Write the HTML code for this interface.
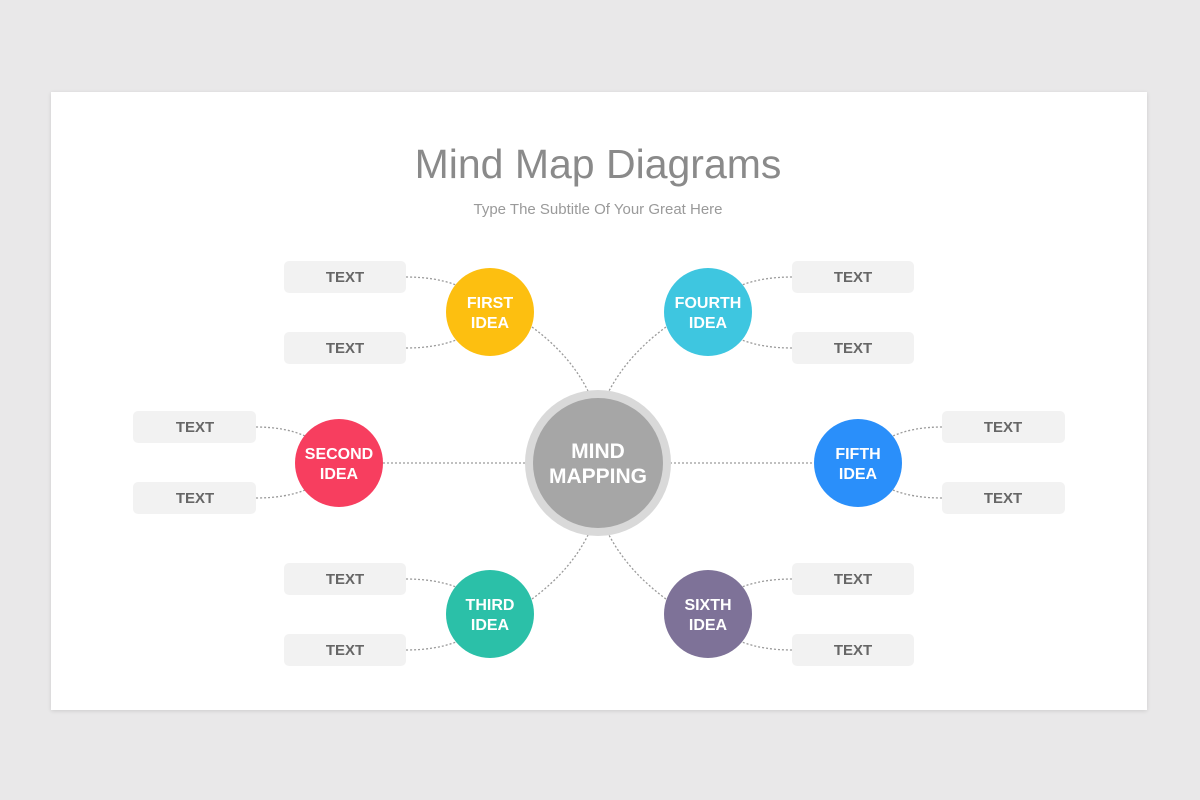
<!DOCTYPE html>
<html><head><meta charset="utf-8"><style>
html,body{margin:0;padding:0;background:#e9e8e9;width:1200px;height:800px;overflow:hidden;font-family:"Liberation Sans",sans-serif}
.card{position:absolute;left:51px;top:92px;width:1096px;height:618px;background:#fff;box-shadow:0 1px 4px rgba(0,0,0,.12)}
svg{position:absolute;left:0;top:0}
</style></head><body>
<div class="card"></div>
<svg width="1200" height="800" viewBox="0 0 1200 800" font-family="Liberation Sans, sans-serif">
<text x="598" y="178" text-anchor="middle" font-size="41" fill="#8a8a8a">Mind Map Diagrams</text>
<text x="598" y="214" text-anchor="middle" font-size="15" fill="#9a9a9a">Type The Subtitle Of Your Great Here</text>
<g fill="none" stroke="#9a9a9a" stroke-width="1.3" stroke-dasharray="2 2">
<path d="M406 277 Q435 277 456 285"/><path d="M406 348 Q435 348 456 340"/>
<path d="M792 277 Q763 277 742 285"/><path d="M792 348 Q763 348 742 340"/>
<path d="M406 579 Q435 579 456 587"/><path d="M406 650 Q435 650 456 642"/>
<path d="M792 579 Q763 579 742 587"/><path d="M792 650 Q763 650 742 642"/>
<path d="M256 427 Q285 427 305 436"/><path d="M256 498 Q285 498 305 490"/>
<path d="M942 427 Q913 427 893 436"/><path d="M942 498 Q913 498 893 490"/>
<path d="M383 463 H526"/><path d="M670 463 H814"/>
<path d="M532 327 Q570 355 588 391"/><path d="M666 327 Q628 355 609 391"/>
<path d="M532 599 Q570 571 588 535"/><path d="M666 599 Q628 571 609 535"/>
</g>
<g fill="#f2f2f2">
<rect x="284" y="261" width="122" height="32" rx="5"/><rect x="284" y="332" width="122" height="32" rx="5"/>
<rect x="284" y="563" width="122" height="32" rx="5"/><rect x="284" y="634" width="122" height="32" rx="5"/>
<rect x="792" y="261" width="122" height="32" rx="5"/><rect x="792" y="332" width="122" height="32" rx="5"/>
<rect x="792" y="563" width="122" height="32" rx="5"/><rect x="792" y="634" width="122" height="32" rx="5"/>
<rect x="133" y="411" width="123" height="32" rx="5"/><rect x="133" y="482" width="123" height="32" rx="5"/>
<rect x="942" y="411" width="123" height="32" rx="5"/><rect x="942" y="482" width="123" height="32" rx="5"/>
</g>
<g fill="#666" font-size="15" font-weight="bold" text-anchor="middle">
<text x="345" y="282">TEXT</text><text x="345" y="353">TEXT</text>
<text x="345" y="584">TEXT</text><text x="345" y="655">TEXT</text>
<text x="853" y="282">TEXT</text><text x="853" y="353">TEXT</text>
<text x="853" y="584">TEXT</text><text x="853" y="655">TEXT</text>
<text x="195" y="432">TEXT</text><text x="195" y="503">TEXT</text>
<text x="1003" y="432">TEXT</text><text x="1003" y="503">TEXT</text>
</g>
<circle cx="598" cy="463" r="73" fill="#d9d9d9"/>
<circle cx="598" cy="463" r="65" fill="#a6a6a6"/>
<circle cx="490" cy="312" r="44" fill="#fdbf10"/>
<circle cx="708" cy="312" r="44" fill="#3ec6e0"/>
<circle cx="339" cy="463" r="44" fill="#f73e5f"/>
<circle cx="858" cy="463" r="44" fill="#2a8ffa"/>
<circle cx="490" cy="614" r="44" fill="#2bc0a8"/>
<circle cx="708" cy="614" r="44" fill="#7e7298"/>
<g fill="#fff" font-weight="bold" text-anchor="middle">
<text x="598" y="458" font-size="21">MIND</text><text x="598" y="483" font-size="21">MAPPING</text>
<g font-size="16">
<text x="490" y="308">FIRST</text><text x="490" y="328">IDEA</text>
<text x="708" y="308">FOURTH</text><text x="708" y="328">IDEA</text>
<text x="339" y="459">SECOND</text><text x="339" y="479">IDEA</text>
<text x="858" y="459">FIFTH</text><text x="858" y="479">IDEA</text>
<text x="490" y="610">THIRD</text><text x="490" y="630">IDEA</text>
<text x="708" y="610">SIXTH</text><text x="708" y="630">IDEA</text>
</g></g>
</svg>
</body></html>
